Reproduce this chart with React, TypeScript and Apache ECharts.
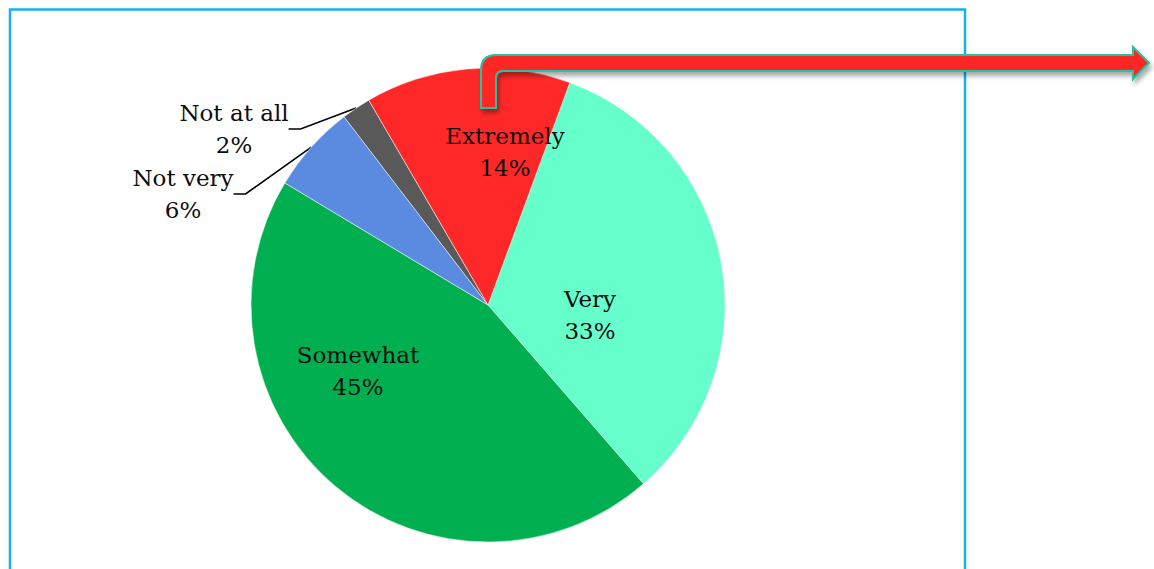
import React, { useEffect, useRef } from 'react';
import * as echarts from 'echarts';

const categories = ['Very', 'Somewhat', 'Not very', 'Not at all', 'Extremely'];
const values = [33, 45, 6, 2, 14];
const colors = ['#66FFCC', '#00B050', '#5B8BE0', '#595959', '#FF2828'];
const outsideLabels = ['Not very', 'Not at all'];

// label block centres (layout only)
const labelCenters: number[][] = [
  [590, 315],
  [358, 371],
  [183, 194],
  [234, 129],
  [505, 152],
];

const ARROW_D =
  'M481 108 L481 70 Q481 55 496 55 L1133 55 L1133 47 L1149 63 L1133 79 L1133 71 L503 71 Q496 71 496 78 L496 108 Z';

let registered = false;
function ensureShapes() {
  if (registered) return;
  echarts.graphic.registerShape('bentArrow', echarts.graphic.extendPath(ARROW_D, {}) as any);
  registered = true;
}

export default function App() {
  const ref = useRef<HTMLDivElement>(null);
  useEffect(() => {
    if (!ref.current) return;
    ensureShapes();
    const chart = echarts.init(ref.current, undefined, { renderer: 'svg' });
    const data = categories.map((name, i) => {
      const outside = outsideLabels.includes(name);
      return {
        name,
        value: values[i],
        itemStyle: { color: colors[i] },
        label: { position: outside ? 'outside' : 'inside' },
        labelLine: { show: outside },
      };
    });
    chart.setOption({
      animation: false,
      backgroundColor: '#ffffff',
      series: [
        {
          type: 'pie',
          center: [488, 305],
          radius: 237,
          startAngle: 69.8,
          clockwise: true,
          data,
          itemStyle: { borderColor: '#ffffff', borderWidth: 0.5 },
          label: {
            show: true,
            formatter: (p: any) => `${p.name}\n${p.value}%`,
            fontFamily: 'DejaVu Serif',
            fontSize: 23,
            lineHeight: 32,
            color: '#0d0d0d',
            align: 'center',
          },
          labelLine: {
            length: 20,
            length2: 12,
            lineStyle: { color: '#000000', width: 1.6 },
          },
          labelLayout: (params: any) => {
            const c = labelCenters[params.dataIndex];
            return { x: c[0], y: c[1], align: 'center', verticalAlign: 'middle' };
          },
          emphasis: { disabled: true },
        },
      ],
      graphic: [
        {
          type: 'rect',
          z: 1,
          shape: { x: 10, y: 9.5, width: 955, height: 600 },
          style: { fill: 'none', stroke: '#12B2F2', lineWidth: 2.5 },
        },
        {
          type: 'bentArrow',
          z: 100,
          x: 0,
          y: 0,
          style: {
            fill: '#FF2828',
            stroke: '#22C4A2',
            lineWidth: 2,
            shadowBlur: 5,
            shadowOffsetX: 2,
            shadowOffsetY: 4,
            shadowColor: 'rgba(0,0,0,0.35)',
          },
        },
      ],
    });
    return () => chart.dispose();
  }, []);
  return (
    <div
      ref={ref}
      style={{ position: 'fixed', left: 0, top: 0, width: 1154, height: 569 }}
    />
  );
}
